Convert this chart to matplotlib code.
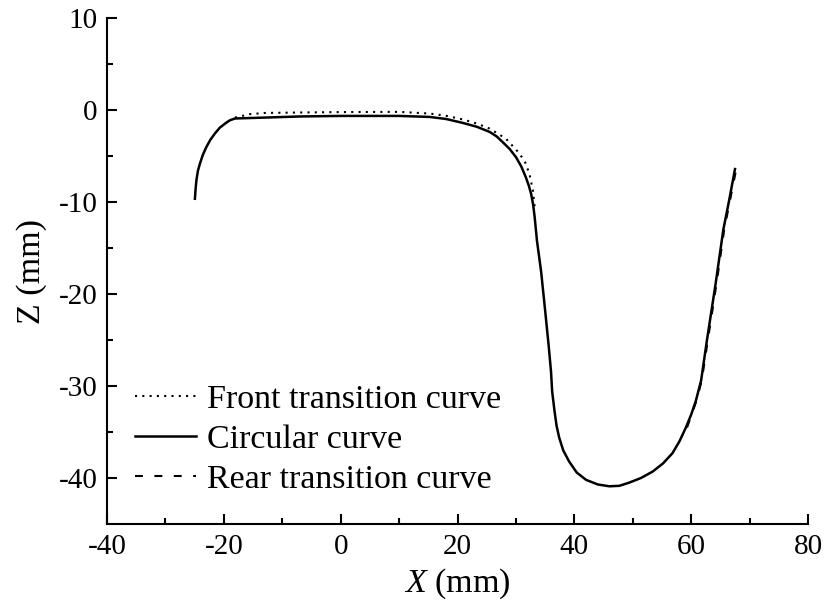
import numpy as np
import matplotlib
matplotlib.use("Agg")
import matplotlib.pyplot as plt

plt.rcParams['font.family'] = ['Liberation Serif', 'DejaVu Serif']
plt.rcParams['mathtext.fontset'] = 'custom'
plt.rcParams['mathtext.rm'] = 'Liberation Serif'
plt.rcParams['mathtext.it'] = 'Liberation Serif:italic'
plt.rcParams['axes.unicode_minus'] = False

# circular curve (whole path)
circ_x = [-24.96, -24.85, -24.7, -24.45, -24.1, -23.6, -23.0, -22.3, -21.5, -20.7,
          -19.8, -19.0, -18.1, -13.0, -7.0, 0.0, 5.0, 10.0, 15.2, 18.0,
          20.9, 23.3, 25.5, 26.7, 27.7, 28.9, 30.0, 30.9, 31.7, 32.2,
          32.6, 32.95, 33.2, 33.6, 34.3, 35.0, 35.6, 36.0, 36.2, 36.6, 36.95,
          37.4, 38.1, 39.1, 40.4, 42.0, 44.0, 46.0, 47.7, 49.4, 51.4,
          53.4, 55.2, 56.8, 58.0, 59.1, 60.0, 60.8, 61.7, 62.7, 64.2,
          65.5, 66.5, 67.5]
circ_z = [-9.63, -8.6, -7.6, -6.6, -5.8, -4.85, -4.0, -3.2, -2.5, -1.9,
          -1.45, -1.1, -0.9, -0.8, -0.68, -0.62, -0.62, -0.62, -0.73, -0.95,
          -1.38, -1.8, -2.36, -2.85, -3.45, -4.2, -5.1, -6.1, -7.3, -8.2,
          -9.1, -10.3, -11.6, -14.2, -17.5, -21.8, -25.6, -28.4, -30.6, -32.7, -34.3,
          -35.6, -37.0, -38.2, -39.4, -40.2, -40.7, -40.9, -40.85, -40.5, -40.0,
          -39.3, -38.4, -37.3, -36.0, -34.5, -33.1, -31.6, -29.4, -25.0, -18.8,
          -13.0, -9.8, -6.4]

# front transition curve (dotted)
front_x = [-18.1, -15.6, -13.0, -7.0, 0.0, 10.0, 15.2, 18.0, 20.9, 23.3, 25.5,
           28.3, 30.6, 31.6, 32.3, 32.9, 33.2]
front_z = [-0.8, -0.43, -0.3, -0.25, -0.2, -0.18, -0.36, -0.6, -1.0, -1.45, -2.0,
           -3.1, -4.7, -5.7, -6.9, -8.7, -10.5]

# rear transition curve (dashed)
rear_x = [59.3, 60.9, 61.8, 62.85, 64.35, 65.65, 66.65, 67.65]
rear_z = [-34.5, -31.6, -29.4, -25.0, -18.8, -13.0, -9.8, -6.6]

fig = plt.figure(figsize=(8.3, 6.09), dpi=100)
ax = fig.add_axes([0.129, 0.1396, 0.8445, 0.8304])

ax.plot(front_x, front_z, color='k', lw=1.5, linestyle=(0, (1, 2.5)),
        label='Front transition curve')
ax.plot(circ_x, circ_z, color='k', lw=1.8, label='Circular curve',
        solid_joinstyle='round')
ax.plot(rear_x, rear_z, color='k', lw=1.5, linestyle=(0, (3.8, 5.5)),
        label='Rear transition curve')

ax.set_xlim(-40, 80)
ax.set_ylim(-45, 10)
ax.set_xticks(np.arange(-40, 81, 20))
ax.set_xticks(np.arange(-30, 80, 20), minor=True)
ax.set_yticks(np.arange(-40, 11, 10))
ax.set_yticks(np.arange(-35, 10, 10), minor=True)

for s in ['top', 'right']:
    ax.spines[s].set_visible(False)
for s in ['left', 'bottom']:
    ax.spines[s].set_linewidth(1.5)

ax.tick_params(which='major', direction='in', length=7.5, width=1.5,
               labelsize=21, pad=7)
ax.tick_params(which='minor', direction='in', length=4, width=1.5)

ax.set_xlabel(r'$X$ (mm)', fontsize=24.5, labelpad=5)
ax.set_ylabel('Z (mm)', fontsize=24.5, labelpad=8)

ax.legend(loc='lower left', bbox_to_anchor=(0.04, 0.058), frameon=False,
          fontsize=24.5, handlelength=1.8, handletextpad=0.3,
          labelspacing=0.27, borderpad=0, borderaxespad=0)

fig.savefig('out.png', dpi=100)
